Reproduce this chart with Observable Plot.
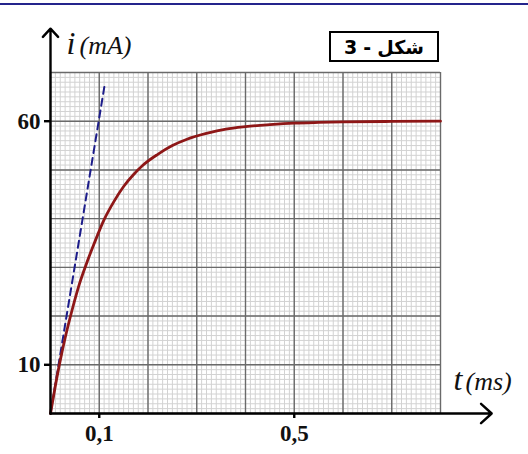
<!DOCTYPE html>
<html>
<head>
<meta charset="utf-8">
<script src="https://cdn.jsdelivr.net/npm/d3@7"></script>
<script src="https://cdn.jsdelivr.net/npm/@observablehq/plot@0.6"></script>
<style>
  html, body { margin: 0; padding: 0; background: #fff; }
  #wrap { position: relative; width: 528px; height: 454px; overflow: hidden; }
  #topline { position: absolute; left: 0; top: 3px; width: 528px; height: 2px; background: #24248c; }
  #figbox {
    position: absolute; left: 329px; top: 31px; width: 106px; height: 27px;
    border: 2px solid #000; background: #fff;
    font-family: "DejaVu Sans", sans-serif; font-weight: bold; font-size: 19px;
    display: flex; justify-content: center; align-items: center; gap: 6px;
    direction: ltr;
  }
</style>
</head>
<body>
<div id="wrap">
  <div id="chart"></div>
  <div id="topline"></div>
  <div id="figbox"><span>3</span><span>-</span><span dir="rtl">شكل</span></div>
</div>
<script>
// Current i (mA) versus time t (ms)
const tValues = [0, 0.01, 0.02, 0.03, 0.045, 0.06, 0.075, 0.09, 0.11, 0.13, 0.15, 0.17, 0.19, 0.22, 0.25, 0.28, 0.32, 0.36, 0.40, 0.45, 0.50, 0.55, 0.60, 0.70, 0.80];
const iValues = [0, 5.7, 10.9, 15.5, 21.5, 26.8, 31.1, 35.0, 39.8, 43.5, 46.6, 49.0, 51.0, 53.2, 55.0, 56.3, 57.5, 58.4, 58.9, 59.3, 59.6, 59.75, 59.85, 59.95, 60];

// Tangent at the origin (dashed)
const tangentT = [0, 0.112];
const tangentI = [0, 68];

// Labelled ticks
const xTicks = [0.1, 0.5];
const yTicks = [10, 60];

// Extent of the arrowed axes
const xAxisLine = [0, 0.905];
const yAxisLine = [0, 79];

const curve = tValues.map((t, k) => ({t, i: iValues[k]}));
const tangent = tangentT.map((t, k) => ({t, i: tangentI[k]}));

const serif = "'Liberation Serif', 'Times New Roman', serif";
const comma = d => String(d).replace(".", ",");

const chart = Plot.plot({
  width: 528,
  height: 454,
  marginLeft: 50,
  marginRight: 88,
  marginTop: 72,
  marginBottom: 41,
  x: {domain: [0, 0.8], axis: null},
  y: {domain: [0, 70], axis: null},
  marks: [
    // millimetre paper
    Plot.ruleX(d3.range(0, 81).map(k => k / 100), {stroke: "#d2d2d2", strokeWidth: 1}),
    Plot.ruleY(d3.range(0, 71), {stroke: "#d2d2d2", strokeWidth: 1}),
    Plot.ruleX(d3.range(0, 9).map(k => k / 10), {stroke: "#6a6a6a", strokeWidth: 1.4}),
    Plot.ruleY(d3.range(0, 71, 10), {stroke: "#6a6a6a", strokeWidth: 1.4}),
    // tangent and response curve
    Plot.line(tangent, {x: "t", y: "i", stroke: "#1c1c8a", strokeWidth: 2, strokeDasharray: "7,5"}),
    Plot.line(curve, {x: "t", y: "i", curve: "monotone-x", stroke: "#8e1717", strokeWidth: 2.8}),
    // axes with arrowheads
    Plot.arrow([0], {x1: xAxisLine[0], x2: xAxisLine[1], y1: 0, y2: 0, stroke: "#000", strokeWidth: 2.4, headLength: 9, headAngle: 85}),
    Plot.arrow([0], {x1: 0, x2: 0, y1: yAxisLine[0], y2: yAxisLine[1], stroke: "#000", strokeWidth: 2.4, headLength: 7, headAngle: 85}),
    Plot.axisX(xTicks, {label: null, tickFormat: comma, tickSize: 5, tickPadding: 6, strokeWidth: 2.4, stroke: "#000",
      fontSize: 23, fontWeight: "bold", fontFamily: serif, fill: "#111"}),
    Plot.axisY(yTicks, {label: null, tickFormat: d => String(d), tickSize: 6, tickPadding: 4, strokeWidth: 2.4, stroke: "#000",
      fontSize: 23, fontWeight: "bold", fontFamily: serif, fill: "#111"}),
    // axis names
    Plot.text(["i"], {frameAnchor: "top-left", dx: 16, dy: -19, textAnchor: "start", lineAnchor: "bottom",
      fontSize: 32, fontStyle: "italic", fontFamily: serif, fill: "#111"}),
    Plot.text(["(mA)"], {frameAnchor: "top-left", dx: 29, dy: -19, textAnchor: "start", lineAnchor: "bottom",
      fontSize: 26, fontStyle: "italic", fontFamily: serif, fill: "#111"}),
    Plot.text(["t"], {frameAnchor: "bottom-right", dx: 13, dy: -24, textAnchor: "start", lineAnchor: "bottom",
      fontSize: 32, fontStyle: "italic", fontFamily: serif, fill: "#111"}),
    Plot.text(["(ms)"], {frameAnchor: "bottom-right", dx: 25, dy: -24, textAnchor: "start", lineAnchor: "bottom",
      fontSize: 26, fontStyle: "italic", fontFamily: serif, fill: "#111"})
  ]
});
document.getElementById("chart").appendChild(chart);
</script>
</body>
</html>
